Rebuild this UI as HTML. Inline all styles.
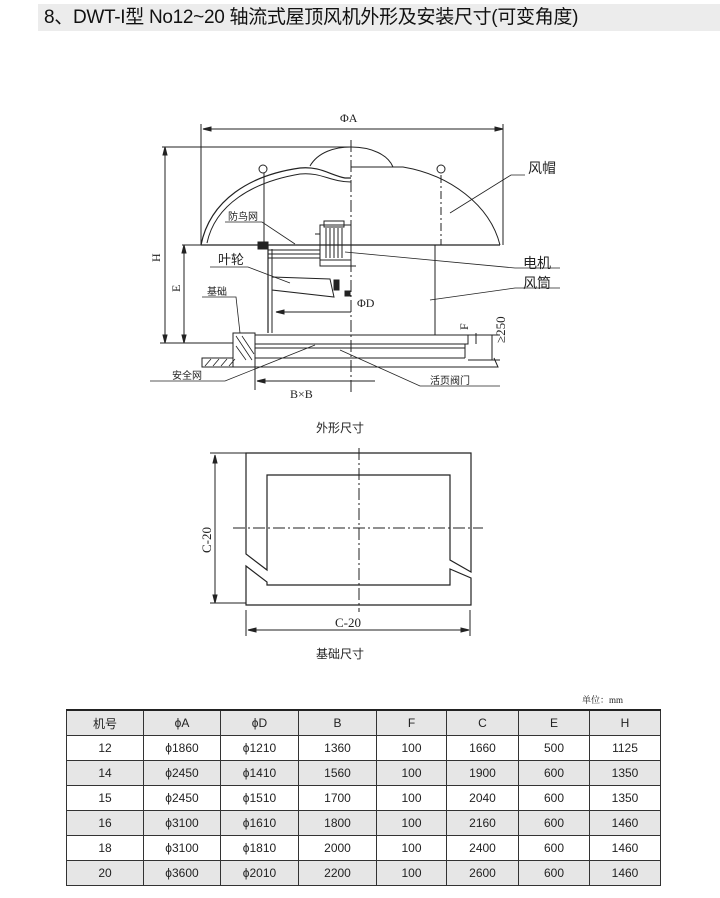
<!DOCTYPE html>
<html><head><meta charset="utf-8"><style>
html,body{margin:0;padding:0;background:#fff;}
body{width:720px;height:898px;position:relative;overflow:hidden;font-family:"Liberation Sans","Noto Sans CJK SC",sans-serif;}
.title{position:absolute;left:38px;top:4px;width:682px;height:27px;background:#ececec;font-size:19px;line-height:27px;color:#111;padding-left:6px;box-sizing:border-box;letter-spacing:-0.3px;}
svg{position:absolute;left:0;top:0;}
table{position:absolute;left:66px;top:709px;border-collapse:collapse;font-size:12px;color:#222;}
td{border:1px solid #333;height:24px;padding:0;text-align:center;}
tr.g td{background:#e6e6e6;}
tr.h td{border-top:2px solid #222;}
</style></head><body>
<div class="title">8、DWT-I型 No12~20 轴流式屋顶风机外形及安装尺寸(可变角度)</div>
<svg width="720" height="898" viewBox="0 0 720 898" fill="none" stroke="#222" stroke-width="1" font-family="Liberation Serif, Noto Serif CJK SC, serif">
<line x1="203" y1="129" x2="503" y2="129"/><path d="M203 129l8-2v4zM503 129l-8-2v4z" fill="#222"/>
<line x1="201" y1="124" x2="201" y2="245"/><line x1="503" y1="124" x2="503" y2="245"/>
<text x="340" y="122" fill="#222" stroke="none" font-size="12">ΦA</text>
<line x1="351" y1="140" x2="351" y2="392" stroke-dasharray="12,3,2,3"/>
<path d="M201 245C210 200 250 175 300 168C320 166 330 175 345 178L351 178" stroke-width="1.2"/>
<path d="M207 243C215 205 252 182 300 174C322 172 330 182 351 182" stroke-width="1"/>
<path d="M310 166C318 152 335 147 351 147C372 147 388 155 393 167"/>
<path d="M351 167L403 167C450 175 490 205 500 245"/>
<line x1="201" y1="245" x2="500" y2="245" stroke-width="1.2"/>
<line x1="441" y1="175" x2="441" y2="245" stroke-dasharray="8,3,2,3"/>
<circle cx="441" cy="169" r="4"/><circle cx="263" cy="169" r="4"/>
<line x1="264" y1="173" x2="264" y2="242"/>
<rect x="258" y="242" width="10" height="7" fill="#222"/>
<line x1="268" y1="245" x2="268" y2="333" stroke-width="1.2"/>
<line x1="272" y1="249" x2="272" y2="333"/>
<line x1="435" y1="245" x2="435" y2="335"/>
<line x1="268" y1="250" x2="320" y2="250"/><line x1="268" y1="254" x2="320" y2="254"/><line x1="268" y1="258" x2="320" y2="258"/>
<rect x="320" y="225" width="31" height="35"/><rect x="324" y="221" width="20" height="6"/>
<path d="M326 228v30M330 228v30M334 228v30M338 228v30M342 228v30"/>
<path d="M315 234h5v32h36"/>
<path d="M272 277L330 279L334 297L272 290Z"/>
<rect x="334" y="280" width="5" height="10" fill="#222"/>
<rect x="345" y="291" width="5" height="5" fill="#222"/>
<line x1="276" y1="312" x2="351" y2="312"/><path d="M276 312l8-2v4z" fill="#222"/>
<rect x="255" y="335" width="213" height="9"/>
<line x1="255" y1="348" x2="465" y2="348"/>
<line x1="465" y1="344" x2="465" y2="358"/>
<line x1="255" y1="358" x2="465" y2="358"/>
<path d="M255 367L498 367L494 358"/>
<path d="M233 333H255V367H233Z" fill="#fff"/>
<path d="M202 358H233V367H202Z"/>
<path d="M236 336l16 24M236 346l10 14M242 336l12 18M205 366l6-7M213 366l6-7M221 366l6-7M229 366l6-7" stroke-width="0.8"/>
<line x1="165" y1="147" x2="165" y2="343"/><path d="M165 147l-2 8h4zM165 343l-2-8h4z" fill="#222"/>
<line x1="162" y1="147" x2="351" y2="147"/>
<line x1="184" y1="245" x2="184" y2="343"/><path d="M184 245l-2 8h4zM184 343l-2-8h4z" fill="#222"/>
<line x1="160" y1="343" x2="233" y2="343"/>
<line x1="182" y1="245" x2="201" y2="245"/>
<text transform="translate(160,262) rotate(-90)" fill="#222" stroke="none" font-size="12">H</text>
<text transform="translate(180,292) rotate(-90)" fill="#222" stroke="none" font-size="12">E</text>
<line x1="476" y1="333" x2="476" y2="344"/><line x1="492" y1="335" x2="492" y2="360"/>
<line x1="468" y1="335" x2="500" y2="335"/><line x1="468" y1="360" x2="500" y2="360"/>
<text transform="translate(468,330) rotate(-90)" fill="#222" stroke="none" font-size="12">F</text>
<text transform="translate(505,343) rotate(-90)" fill="#222" stroke="none" font-size="13">≥250</text>
<line x1="255" y1="367" x2="255" y2="390"/>
<line x1="257" y1="381" x2="375" y2="381"/><path d="M257 381l8-2v4z" fill="#222"/>
<text x="290" y="398" fill="#222" stroke="none" font-size="12">B×B</text>
<g stroke-width="0.8">
<path d="M225 222H262L295 244"/>
<path d="M210 267H248L290 283"/>
<path d="M202 297H236L240 333"/>
<path d="M150 381H225L315 345"/>
<path d="M340 350L420 386H500"/>
<path d="M525 175H511L450 213"/>
<path d="M345 252L515 268H560"/>
<path d="M430 300L515 288H560"/>
</g>
<g fill="#222" stroke="none" font-family="Liberation Sans, Noto Sans CJK SC, sans-serif">
<text x="228" y="220" font-size="10">防鸟网</text>
<text x="218" y="264" font-size="13">叶轮</text>
<text x="207" y="295" font-size="10">基础</text>
<text x="172" y="379" font-size="10">安全网</text>
<text x="430" y="384" font-size="10">活页阀门</text>
<text x="528" y="173" font-size="14">风帽</text>
<text x="523" y="268" font-size="14">电机</text>
<text x="523" y="288" font-size="14">风筒</text>
</g>
<text x="357" y="307" fill="#222" stroke="none" font-size="12">ΦD</text>
<text x="316" y="432" fill="#222" stroke="none" font-size="12" font-family="Liberation Sans, Noto Sans CJK SC, sans-serif">外形尺寸</text>
<path d="M246 554V453H471V572L450 560V475H267V570Z" stroke-width="1.2"/>
<path d="M246 566V605H471V578L450 569V585H267V582Z" stroke-width="1.2"/>
<line x1="233" y1="528" x2="483" y2="528" stroke-dasharray="12,3,2,3"/>
<line x1="359" y1="448" x2="359" y2="612" stroke-dasharray="12,3,2,3"/>
<line x1="215" y1="455" x2="215" y2="603"/><path d="M215 455l-2 8h4zM215 603l-2-8h4z" fill="#222"/>
<line x1="210" y1="453" x2="246" y2="453"/><line x1="210" y1="603" x2="246" y2="603"/>
<text transform="translate(211,553) rotate(-90)" fill="#222" stroke="none" font-size="13">C-20</text>
<line x1="248" y1="630" x2="469" y2="630"/><path d="M248 630l8-2v4zM469 630l-8-2v4z" fill="#222"/>
<line x1="246" y1="610" x2="246" y2="636"/><line x1="470" y1="610" x2="470" y2="636"/>
<text x="335" y="627" fill="#222" stroke="none" font-size="13">C-20</text>
<text x="316" y="658" fill="#222" stroke="none" font-size="12" font-family="Liberation Sans, Noto Sans CJK SC, sans-serif">基础尺寸</text>
<text x="582" y="703" fill="#222" stroke="none" font-size="9">单位：mm</text>
</svg>
<table>
<colgroup><col style="width:77px"><col style="width:77px"><col style="width:78px"><col style="width:78px"><col style="width:70px"><col style="width:72px"><col style="width:71px"><col style="width:71px"></colgroup>
<tr class="g h"><td>机号</td><td>ϕA</td><td>ϕD</td><td>B</td><td>F</td><td>C</td><td>E</td><td>H</td></tr>
<tr><td>12</td><td>ϕ1860</td><td>ϕ1210</td><td>1360</td><td>100</td><td>1660</td><td>500</td><td>1125</td></tr>
<tr class="g"><td>14</td><td>ϕ2450</td><td>ϕ1410</td><td>1560</td><td>100</td><td>1900</td><td>600</td><td>1350</td></tr>
<tr><td>15</td><td>ϕ2450</td><td>ϕ1510</td><td>1700</td><td>100</td><td>2040</td><td>600</td><td>1350</td></tr>
<tr class="g"><td>16</td><td>ϕ3100</td><td>ϕ1610</td><td>1800</td><td>100</td><td>2160</td><td>600</td><td>1460</td></tr>
<tr><td>18</td><td>ϕ3100</td><td>ϕ1810</td><td>2000</td><td>100</td><td>2400</td><td>600</td><td>1460</td></tr>
<tr class="g"><td>20</td><td>ϕ3600</td><td>ϕ2010</td><td>2200</td><td>100</td><td>2600</td><td>600</td><td>1460</td></tr>
</table>
</body></html>
